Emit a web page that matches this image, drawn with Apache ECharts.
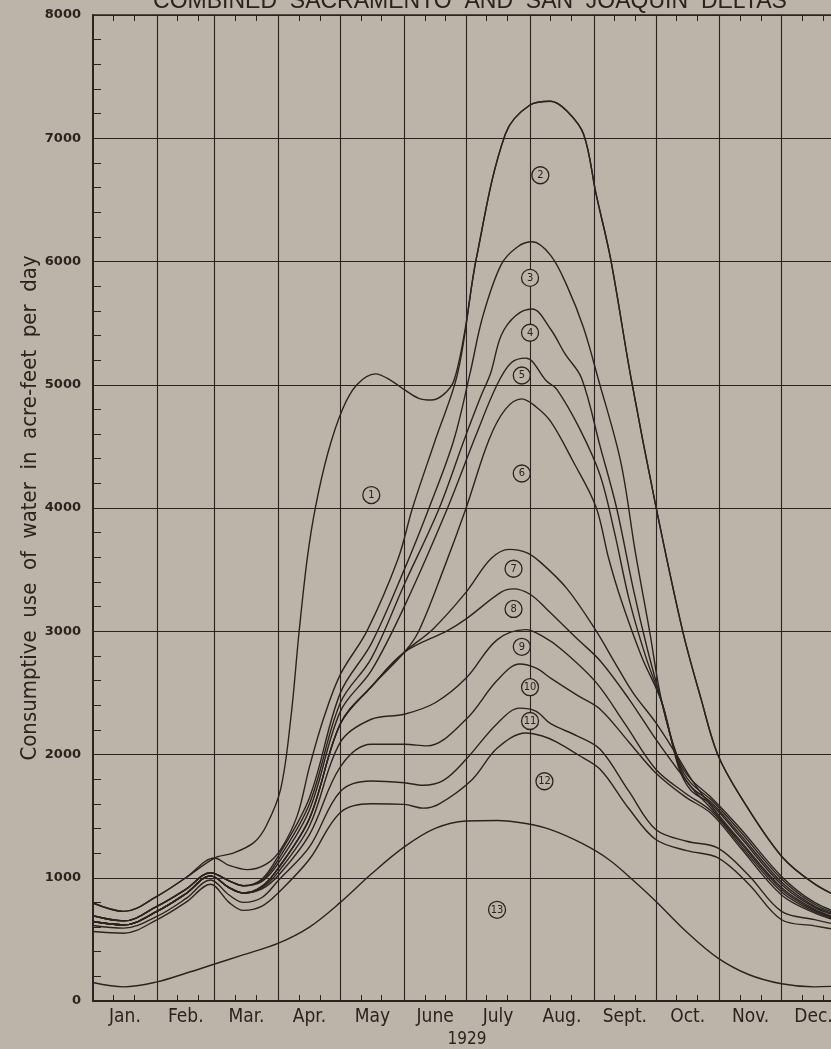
<!DOCTYPE html>
<html>
<head>
<meta charset="utf-8">
<title>Consumptive use of water - Combined Sacramento and San Joaquin Deltas, 1929</title>
<script src="https://cdn.jsdelivr.net/npm/echarts@6/dist/echarts.min.js"></script>
<style>
  html, body { margin: 0; padding: 0; background: #bcb4a8; }
  #chart { width: 831px; height: 1049px; }
</style>
</head>
<body>
<div id="chart"></div>
<script>
// day of year at the start of each month (1929), and month names
const monthStarts = [0, 31, 59, 90, 120, 151, 181, 212, 243, 273, 304, 334, 365];
const monthNames = ['Jan.', 'Feb.', 'Mar.', 'Apr.', 'May', 'June', 'July', 'Aug.', 'Sept.', 'Oct.', 'Nov.', 'Dec.'];
const yearLabel = '1929';
// the plate is cut off a week before the end of December
const lastVisibleDay = 358;

// boundary lines, [day of year, acre-feet per day]
const line1 = [[0,795],[15,727],[31,849],[45,1000],[59,1160],[68,1200],[78,1285],[84,1420],[91,1717],[96,2300],[100,3000],[104,3600],[108,4014],[114,4450],[121,4800],[128,5000],[137,5088],[145,5030],[151,4960],[158,4890],[164,4876],[170,4920],[175,5030],[180,5400],[186,6029],[200,7033],[212,7270],[222,7300],[230,7220],[238,7033],[244,6550],[251,6029],[261,5053],[273,4017],[286,3005],[295,2449],[303,2002],[314,1662],[334,1174],[350,950],[365,820]];
const line2 = [[0,795],[15,727],[31,849],[45,1000],[59,1160],[66,1100],[75,1066],[84,1110],[91,1229],[99,1500],[105,1900],[112,2300],[120,2650],[133,3005],[148,3588],[155,4000],[166,4550],[177,5100],[186,6029],[200,7033],[212,7270],[222,7300],[230,7220],[238,7033],[244,6550],[251,6029],[261,5053],[273,4017],[286,3005],[295,2449],[303,2002],[314,1662],[334,1174],[350,950],[365,820]];
const line3 = [[0,692],[15,650],[31,767],[45,905],[57,1040],[66,975],[73,935],[82,990],[90,1180],[105,1650],[120,2500],[135,2900],[151,3500],[163,4000],[175,4550],[183,5100],[189,5550],[198,5975],[206,6120],[213,6160],[222,6050],[230,5800],[238,5460],[245,5053],[256,4375],[263,3650],[270,3000],[276,2420],[284,1960],[290,1800],[300,1650],[314,1400],[334,1011],[350,800],[365,700]];
const line4 = [[0,692],[15,650],[31,767],[45,905],[57,1040],[66,975],[73,935],[82,980],[90,1150],[105,1600],[120,2420],[135,2780],[151,3380],[168,4000],[180,4550],[188,4900],[193,5100],[198,5400],[205,5560],[213,5614],[222,5450],[229,5250],[237,5053],[246,4500],[254,4000],[262,3350],[269,2850],[276,2420],[284,1940],[290,1770],[300,1630],[314,1375],[334,990],[350,785],[365,690]];
const line5 = [[0,692],[15,650],[31,767],[45,905],[57,1040],[66,975],[73,935],[82,970],[90,1120],[105,1550],[120,2350],[135,2680],[151,3200],[172,4000],[186,4600],[196,5000],[203,5180],[210,5216],[220,5030],[225,4963],[236,4646],[246,4266],[253,3800],[260,3263],[268,2800],[276,2420],[284,1920],[290,1740],[300,1610],[314,1350],[334,965],[350,770],[365,680]];
const line6 = [[0,645],[15,618],[31,727],[45,870],[57,1015],[66,920],[73,876],[82,930],[90,1080],[105,1480],[120,2250],[135,2550],[151,2829],[158,3000],[170,3500],[181,4000],[192,4550],[200,4800],[208,4885],[215,4820],[222,4702],[233,4375],[244,4009],[250,3600],[256,3263],[266,2800],[276,2420],[284,1900],[290,1710],[300,1595],[314,1330],[334,945],[350,760],[365,670]];
const line7 = [[0,645],[15,618],[31,727],[45,870],[57,1015],[66,920],[73,876],[82,930],[90,1080],[105,1480],[120,2250],[135,2550],[151,2829],[165,3019],[181,3317],[193,3588],[202,3664],[210,3640],[217,3561],[230,3344],[244,3005],[253,2750],[262,2500],[273,2259],[283,2000],[291,1780],[300,1580],[314,1300],[334,920],[350,745],[365,650]];
const line8 = [[0,645],[15,618],[31,727],[45,870],[57,1015],[66,920],[73,876],[82,930],[90,1080],[105,1480],[120,2250],[135,2550],[151,2829],[172,3005],[181,3100],[198,3317],[204,3344],[212,3300],[220,3181],[235,2937],[246,2761],[260,2450],[273,2124],[284,1870],[292,1700],[300,1560],[314,1285],[334,905],[350,735],[365,645]];
const line9 = [[0,645],[15,618],[31,727],[45,870],[57,1015],[66,920],[73,876],[82,920],[90,1050],[105,1420],[120,2100],[135,2286],[151,2327],[166,2420],[181,2620],[196,2930],[210,3013],[218,2960],[227,2856],[244,2585],[258,2250],[273,1880],[287,1690],[300,1540],[314,1265],[334,885],[350,725],[365,640]];
const line10 = [[0,645],[15,618],[31,727],[45,870],[57,1015],[66,920],[73,876],[82,910],[90,1020],[105,1350],[120,1900],[135,2083],[151,2083],[162,2070],[181,2286],[196,2600],[207,2734],[215,2700],[222,2620],[235,2480],[246,2368],[260,2100],[273,1850],[287,1660],[300,1520],[314,1245],[334,860],[350,715],[365,630]];
const line11 = [[0,613],[15,591],[31,686],[45,830],[57,982],[66,860],[73,800],[82,840],[90,980],[105,1250],[120,1700],[135,1785],[151,1771],[160,1750],[170,1790],[181,1961],[196,2250],[207,2376],[215,2350],[222,2250],[235,2150],[246,2042],[260,1700],[273,1391],[288,1296],[303,1242],[318,1020],[334,727],[350,660],[365,605]];
const line12 = [[0,564],[15,550],[31,659],[45,800],[57,947],[66,800],[73,735],[82,770],[90,880],[105,1150],[120,1530],[135,1600],[151,1595],[160,1565],[168,1600],[184,1798],[196,2050],[210,2175],[218,2150],[225,2100],[235,2000],[246,1880],[260,1560],[273,1310],[288,1220],[303,1163],[318,950],[334,659],[350,610],[365,565]];
const line13 = [[0,150],[15,115],[31,155],[45,225],[59,300],[72,370],[90,470],[105,600],[120,800],[135,1030],[151,1250],[166,1400],[181,1460],[196,1465],[210,1440],[222,1390],[237,1280],[250,1150],[262,980],[273,810],[288,560],[303,350],[318,215],[334,140],[350,115],[365,125]];

// circled area numbers
const areaLabels = ['1', '2', '3', '4', '5', '6', '7', '8', '9', '10', '11', '12', '13'];
const labelDays = [135, 217, 212, 212, 208, 208, 204, 204, 208, 212, 212, 219, 196];
const labelValues = [4105, 6700, 5867, 5422, 5075, 4280, 3507, 3181, 2874, 2546, 2272, 1783, 740];

const ink = '#2a241f';
const paper = '#bcb4a8';
const narrow = '"Liberation Sans Narrow", "DejaVu Sans Condensed", sans-serif';

const allLines = [line1, line2, line3, line4, line5, line6, line7, line8, line9, line10, line11, line12, line13];

const monthMid = monthStarts.slice(0, 12).map((d, i) => (d + monthStarts[i + 1]) / 2);
const minorDays = [];
monthStarts.slice(0, 12).forEach((d) => {
  minorDays.push(d + 10, d + 20);
});
const visibleMinor = minorDays.filter((d) => d < lastVisibleDay);

const chart = echarts.init(document.getElementById('chart'));

const series = allLines.map((pts, i) => ({
  name: 'line' + (i + 1),
  type: 'line',
  data: pts,
  showSymbol: false,
  smooth: 0.35,
  lineStyle: { color: ink, width: 1.4 },
  z: 3,
}));

// month division lines
series[12].markLine = {
  silent: true,
  symbol: ['none', 'none'],
  label: { show: false },
  lineStyle: { color: ink, width: 1.1, type: 'solid' },
  data: monthStarts.slice(1, 12).map((d) => ({ xAxis: d })),
};

series.push({
  type: 'scatter',
  data: areaLabels.map((t, i) => ({ name: t, value: [labelDays[i], labelValues[i]] })),
  symbol: 'circle',
  symbolSize: 17,
  itemStyle: { color: paper, borderColor: ink, borderWidth: 1.3, opacity: 1 },
  label: {
    show: true,
    position: 'inside',
    formatter: '{b}',
    color: ink,
    fontSize: 11,
    fontFamily: narrow,
  },
  z: 6,
});

const option = {
  backgroundColor: paper,
  animation: false,
  grid: { left: 93, top: 15, right: 0, height: 986, outerBoundsMode: 'none' },
  xAxis: [
    {
      type: 'value',
      min: 0,
      max: lastVisibleDay,
      position: 'bottom',
      axisLine: { show: true, onZero: false, lineStyle: { color: ink, width: 2 } },
      axisTick: { show: true, inside: true, length: 6, customValues: visibleMinor, lineStyle: { color: ink, width: 1 } },
      axisLabel: {
        customValues: monthMid,
        formatter: (v) => monthNames[monthMid.findIndex((m) => Math.abs(m - v) < 0.01)],
        margin: 7,
        color: ink,
        fontSize: 19,
        fontFamily: narrow,
      },
      splitLine: { show: false },
    },
    {
      type: 'value',
      min: 0,
      max: lastVisibleDay,
      position: 'top',
      axisLine: { show: true, onZero: false, lineStyle: { color: ink, width: 1.5 } },
      axisTick: { show: true, inside: true, length: 6, customValues: visibleMinor, lineStyle: { color: ink, width: 1 } },
      axisLabel: { show: false },
      splitLine: { show: false },
    },
  ],
  yAxis: {
    type: 'value',
    min: 0,
    max: 8000,
    interval: 1000,
    axisLine: { show: true, lineStyle: { color: ink, width: 2 } },
    axisTick: { show: true, inside: true, length: 8, lineStyle: { color: ink } },
    minorTick: { show: true, splitNumber: 5, length: 8, lineStyle: { color: ink, width: 1 } },
    axisLabel: {
      margin: 12,
      color: ink,
      fontSize: 13,
      fontWeight: 'bold',
      fontFamily: 'DejaVu Sans',
      formatter: (v) => String(v),
    },
    splitLine: { show: true, lineStyle: { color: ink, width: 1 } },
    name: 'Consumptive  use  of  water  in  acre-feet  per  day',
    nameLocation: 'middle',
    nameGap: 52,
    nameMoveOverlap: false,
    nameTextStyle: { color: ink, fontSize: 22, fontFamily: narrow },
  },
  graphic: [
    {
      type: 'text',
      x: 470,
      y: 2,
      style: {
        text: 'COMBINED  SACRAMENTO  AND  SAN  JOAQUIN  DELTAS',
        font: '23px "Liberation Sans", sans-serif',
        fill: ink,
        align: 'center',
        verticalAlign: 'middle',
      },
    },
    {
      type: 'text',
      x: 467,
      y: 1040,
      style: {
        text: yearLabel,
        font: '17px ' + narrow,
        fill: ink,
        align: 'center',
        verticalAlign: 'middle',
      },
    },
  ],
  series: series,
};

chart.setOption(option);
</script>
</body>
</html>
